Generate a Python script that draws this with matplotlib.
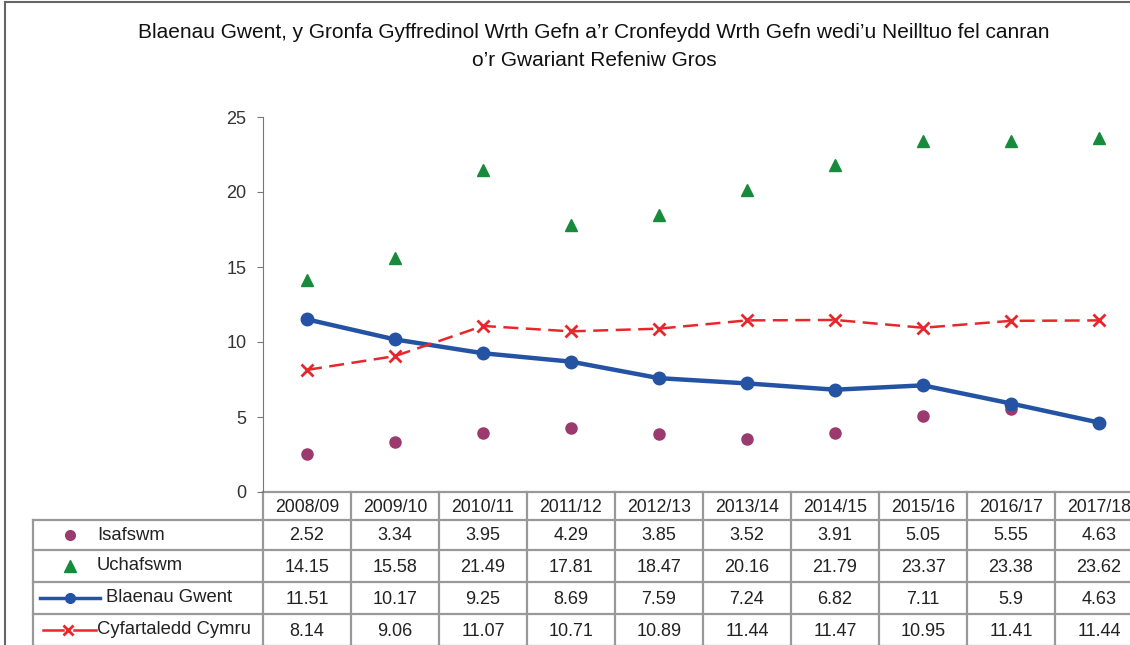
import matplotlib
matplotlib.use("Agg")
import matplotlib.pyplot as plt
import matplotlib.transforms as mtransforms

plt.rcParams['font.family'] = ['Liberation Sans', 'DejaVu Sans']

years = ["2008/09", "2009/10", "2010/11", "2011/12", "2012/13",
         "2013/14", "2014/15", "2015/16", "2016/17", "2017/18"]
isafswm = [2.52, 3.34, 3.95, 4.29, 3.85, 3.52, 3.91, 5.05, 5.55, 4.63]
uchafswm = [14.15, 15.58, 21.49, 17.81, 18.47, 20.16, 21.79, 23.37, 23.38, 23.62]
blaenau = [11.51, 10.17, 9.25, 8.69, 7.59, 7.24, 6.82, 7.11, 5.9, 4.63]
cymru = [8.14, 9.06, 11.07, 10.71, 10.89, 11.44, 11.47, 10.95, 11.41, 11.44]

series_names = ["Isafswm", "Uchafswm", "Blaenau Gwent", "Cyfartaledd Cymru"]
series_vals = [isafswm, uchafswm, blaenau, cymru]

purple = "#9b3a6e"
green = "#178a3c"
blue = "#2553a3"
red = "#e8272c"
grid_grey = "#999999"

W, H = 1130, 645
fig = plt.figure(figsize=(W / 100, H / 100), dpi=100)

# overlay in pixel coordinates for table rows / frame
ov = fig.add_axes([0, 0, 1, 1])
ov.set_xlim(0, W)
ov.set_ylim(H, 0)
ov.axis("off")

ax_left, ax_right, ax_top, ax_bot = 263, 1143, 117, 492
ax = fig.add_axes([ax_left / W, 1 - ax_bot / H, (ax_right - ax_left) / W, (ax_bot - ax_top) / H])
ax.set_xlim(-0.5, len(years) - 0.5)
ax.set_ylim(0, 25)
ax.set_yticks([0, 5, 10, 15, 20, 25])
ax.set_xticks([])
for s in ["top", "right", "bottom"]:
    ax.spines[s].set_visible(False)
ax.spines["left"].set_color("#777777")
ax.tick_params(axis="y", colors="#777777", labelcolor="#333333", labelsize=13, length=4, pad=8)
ax.patch.set_alpha(0)

x = range(len(years))
ax.plot(x, isafswm, "o", color=purple, ms=8, ls="none", clip_on=False)
ax.plot(x, uchafswm, "^", color=green, ms=9, ls="none", clip_on=False)
ax.plot(x, blaenau, "-o", color=blue, lw=3.2, ms=9, clip_on=False)
ax.plot(x, cymru, "--x", color=red, lw=1.8, ms=9, mew=2, dashes=(6, 3), clip_on=False)

# title
ov.text(594, 33, "Blaenau Gwent, y Gronfa Gyffredinol Wrth Gefn a\u2019r Cronfeydd Wrth Gefn wedi\u2019u Neilltuo fel canran",
        ha="center", va="center", fontsize=15, color="#111111")
ov.text(594, 60, "o\u2019r Gwariant Refeniw Gros", ha="center", va="center", fontsize=15, color="#111111")

# frame
ov.plot([5, 5], [2, H], color="#666666", lw=1.5)
ov.plot([5, W], [2, 2], color="#666666", lw=1.5)

# table (x from axes data, y in pixels)
tr = mtransforms.blended_transform_factory(ax.transData, ov.transData)
row_edges = [492, 520, 550, 582, 614, 646]
lab_left = 33
x_lab_left = ax.transData.inverted().transform(
    ov.transData.transform((lab_left, 0)))[0]

for i, yy in enumerate(row_edges):
    x0 = -0.5 if i == 0 else x_lab_left
    ov.plot([x0, len(years) - 0.5], [yy, yy], color=grid_grey, lw=1.6,
            transform=tr, clip_on=False)
for k in range(len(years) + 1):
    ov.plot([k - 0.5, k - 0.5], [row_edges[0], H], color=grid_grey, lw=1.6,
            transform=tr, clip_on=False)
ov.plot([x_lab_left, x_lab_left], [row_edges[1], H], color=grid_grey, lw=1.6,
        transform=tr, clip_on=False)

for k, yr in enumerate(years):
    ov.text(k, (row_edges[0] + row_edges[1]) / 2 + 1, yr, ha="center", va="center",
            fontsize=12.7, color="#222222", transform=tr)
for r, vals in enumerate(series_vals):
    yc = (row_edges[r + 1] + row_edges[r + 2]) / 2 + 1
    for k, v in enumerate(vals):
        ov.text(k, yc, f"{v:g}", ha="center", va="center", fontsize=13,
                color="#222222", transform=tr)

# legend keys in label column
key_y = [(row_edges[r + 1] + row_edges[r + 2]) / 2 for r in range(4)]
ov.plot([70], [key_y[0]], "o", color=purple, ms=7)
ov.plot([70], [key_y[1]], "^", color=green, ms=8)
ov.plot([40, 100], [key_y[2], key_y[2]], "-", color=blue, lw=2.5)
ov.plot([70], [key_y[2]], "o", color=blue, ms=7)
ov.plot([43, 63], [key_y[3], key_y[3]], "-", color=red, lw=1.8)
ov.plot([74, 96], [key_y[3], key_y[3]], "-", color=red, lw=1.8)
ov.plot([68], [key_y[3]], "x", color=red, ms=7, mew=2)
label_x = [97, 97, 106, 97]
for r, name in enumerate(series_names):
    ov.text(label_x[r], key_y[r], name, ha="left", va="center", fontsize=13.3,
            color="#222222")

fig.savefig("out.png", dpi=100)
